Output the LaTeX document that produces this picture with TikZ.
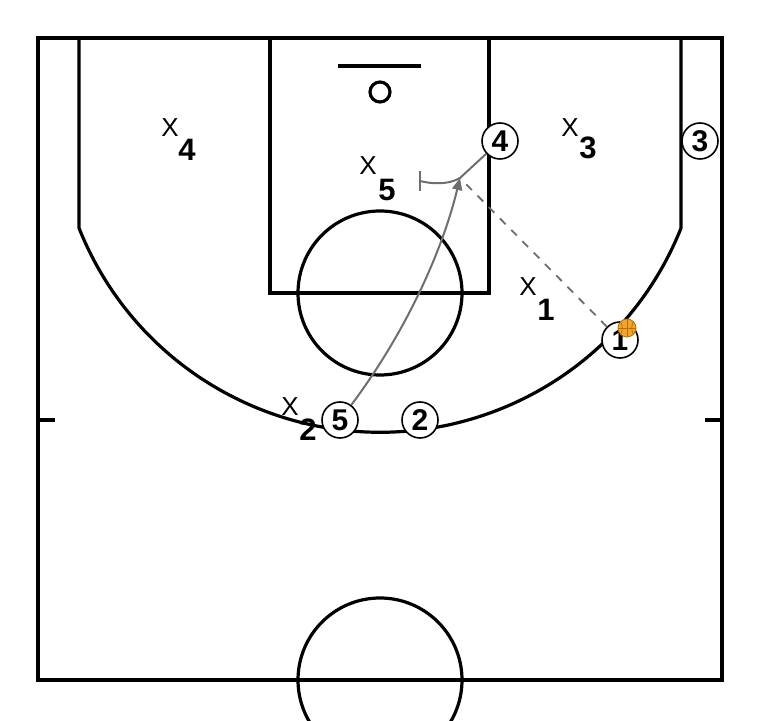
\documentclass[tikz,border=0pt]{standalone}
\usepackage{fontspec}
\setmainfont{Liberation Sans}
\usetikzlibrary{arrows.meta}
\definecolor{mvgray}{HTML}{6E6E6E}
\definecolor{ballor}{HTML}{F2A52B}
\definecolor{balldk}{HTML}{B86E00}
\tikzset{
  court/.style={line width=3.2pt, black},
  player/.style={circle, draw=black, line width=1.6pt, fill=white, minimum size=36pt, inner sep=0pt, font=\fontsize{30}{30}\selectfont\bfseries},
  defx/.style={inner sep=0pt, font=\fontsize{26}{26}\selectfont},
  defn/.style={inner sep=0pt, font=\fontsize{31}{31}\selectfont\bfseries},
  move/.style={draw=mvgray, line width=2pt},
  pass/.style={draw=mvgray, line width=1.8pt, dash pattern=on 8pt off 8pt},
}
\begin{document}
\begin{tikzpicture}[x=1pt,y=1pt]
\useasboundingbox (0,0) rectangle (760,720);
% court
\draw[court] (38,40) rectangle (722,682);
\draw[court] (270,682) -- (270,427) -- (489,427) -- (489,682);
\draw[court] (380,427) circle[radius=82];
\draw[court] (338,654) -- (421,654);
\draw[court] (380,628) circle[radius=10];
\draw[court] (79,682) -- (79,492) arc[start angle=201.7, end angle=338.3, radius=324] -- (681,682);
\draw[court] (38,300) -- (55,300);
\draw[court] (705,300) -- (722,300);
\begin{scope}
\clip (0,0) rectangle (760,720);
\draw[court] (380,40) circle[radius=82];
\end{scope}
% players
\node[player] (p4) at (500,579) {4};
\node[player] (p3) at (700,579) {3};
\node[player] (p1) at (620,380) {1};
\node[player] (p5) at (340,300) {5};
\node[player] (p2) at (420,300) {2};
% movement
\coordinate (scr) at (460,542);
\coordinate (scrend) at (420,539);
\draw[move] (p4) -- (scr) .. controls (448,535) and (432,536) .. (scrend);
\draw[move] (420,549) -- (420,529);
\draw[move, -{Triangle[length=12pt,width=10pt,fill=mvgray]}] (p5) .. controls (400,380) and (440,460) .. (scr);
\draw[pass] (p1) -- (scr);
% ball
\node[circle, fill=ballor, draw=balldk, line width=0.8pt, minimum size=18pt, inner sep=0pt] (ball) at (627,392) {};
\draw[balldk, line width=0.7pt] (ball.north) -- (ball.south);
\draw[balldk, line width=0.7pt] (ball.west) -- (ball.east);
\draw[balldk, line width=0.7pt] (ball.north west) to[bend left=30] (ball.south west);
\draw[balldk, line width=0.7pt] (ball.north east) to[bend right=30] (ball.south east);
% defenders
\node[defx] (d4x) at (170,592) {X};
\node[defn] (d4n) at (187,570) {4};
\node[defx] (d3x) at (570,592) {X};
\node[defn] (d3n) at (588,572) {3};
\node[defx] (d5x) at (368,554) {X};
\node[defn] (d5n) at (387,530) {5};
\node[defx] (d1x) at (528,433) {X};
\node[defn] (d1n) at (546,410) {1};
\node[defx] (d2x) at (290,313) {X};
\node[defn] (d2n) at (308,290) {2};
\end{tikzpicture}
\end{document}
